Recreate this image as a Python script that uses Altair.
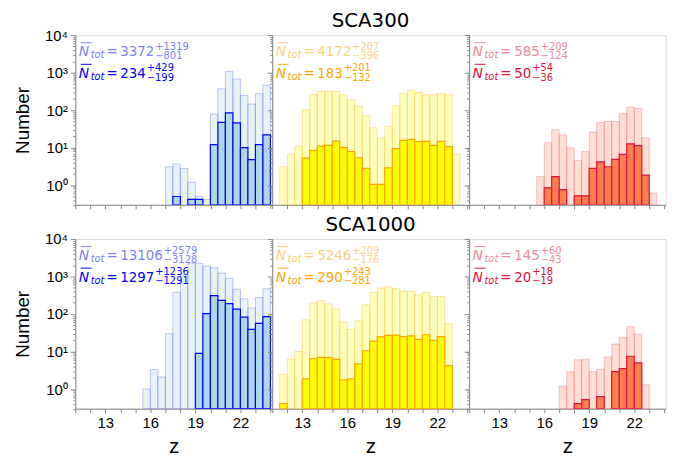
import altair as alt
import pandas as pd

N = None
z_lo = [11.5, 12.0, 12.5, 13.0, 13.5, 14.0, 14.5, 15.0, 15.5, 16.0, 16.5, 17.0, 17.5,
        18.0, 18.5, 19.0, 19.5, 20.0, 20.5, 21.0, 21.5, 22.0, 22.5, 23.0, 23.5]
z_hi = [12.0, 12.5, 13.0, 13.5, 14.0, 14.5, 15.0, 15.5, 16.0, 16.5, 17.0, 17.5, 18.0,
        18.5, 19.0, 19.5, 20.0, 20.5, 21.0, 21.5, 22.0, 22.5, 23.0, 23.5, 24.0]

# SCA300 row
sca300_blue_all = [N, N, N, N, N, N, N, N, N, N, N, 3.1, 3.7, 2.8, 1.2, 0.5, 0.42, 78, 370, 1080, 680, 245, 145, 275, 460]
sca300_blue_sel = [N, N, N, N, N, N, N, N, N, N, N, N, 0.5, N, 0.42, 0.42, N, 12, 47, 85, 46, 10, 4.8, 12, 22]
sca300_yellow_all = [3.1, 6.8, 11, 102, 257, 316, 316, 316, 257, 190, 129, 71, 34, 18, 37, 132, 280, 340, 295, 257, 257, 275, 257, 6.8, N]
sca300_yellow_sel = [N, N, N, 5.3, 8.5, 11, 11.5, 15, 10, 7.9, 5.4, 2.8, 1.05, 1.05, 2.9, 9.4, 15.6, 16.6, 14.5, 14.8, 11.5, 14.8, 10.7, N, N]
sca300_red_all = [N, N, N, N, N, N, N, N, 1.7, 13.5, 30, 22, 10, 4.6, 7.9, 26, 47, 50, 50, 82, 120, 112, 18.4, 0.62, N]
sca300_red_sel = [N, N, N, N, N, N, N, N, N, 0.85, 1.7, 0.76, N, 0.52, 0.52, 2.8, 4.2, 3.1, 4.9, 6.6, 12.7, 11.3, 1.86, N, N]

# SCA1000 row
sca1000_blue_all = [N, N, N, N, N, N, N, N, 1.0, 3.3, 2.1, 30, 380, 1120, 2280, 2240, 1900, 1700, 1230, 900, 460, 255, 145, 275, 470]
sca1000_blue_sel = [N, N, N, N, N, N, N, N, N, N, N, N, N, N, N, 8.9, 103, 310, 230, 190, 135, 83, 39, 56, 85]
sca1000_yellow_all = [2.5, 6.3, 10, 70, 197, 227, 186, 137, 62, 39, 66, 175, 375, 490, 530, 470, 410, 400, 325, 375, 290, 295, 55, N, N]
sca1000_yellow_sel = [0.41, N, N, 1.86, 6.5, 7.0, 6.9, 6.2, 1.75, 1.86, 4.7, 10.5, 19, 24.5, 27, 27.5, 25, 26, 21, 28, 20, 25, 4.2, N, N]
sca1000_red_all = [N, N, N, N, N, N, N, N, N, N, N, 1.2, 2.9, 6.0, 6.3, 2.9, 3.4, 7.2, 15.8, 24, 46, 29, 1.3, N, N]
sca1000_red_sel = [N, N, N, N, N, N, N, N, N, N, N, N, N, 0.41, 0.52, N, 0.63, N, 2.9, 3.5, 7.5, 5.0, N, N, N]

# annotation numbers (panels left to right)
sca300_all_mean = ["3372", "4172", "585"]
sca300_all_up = ["+1319", "+207", "+209"]
sca300_all_lo = ["\u2212801", "\u2212396", "\u2212124"]
sca300_sel_mean = ["234", "183", "50"]
sca300_sel_up = ["+429", "+201", "+54"]
sca300_sel_lo = ["\u2212199", "\u2212132", "\u221236"]
sca1000_all_mean = ["13106", "5246", "145"]
sca1000_all_up = ["+2579", "+209", "+60"]
sca1000_all_lo = ["\u22123128", "\u2212176", "\u221243"]
sca1000_sel_mean = ["1297", "290", "20"]
sca1000_sel_up = ["+1236", "+243", "+18"]
sca1000_sel_lo = ["\u22121291", "\u2212281", "\u221219"]

row_titles = ["SCA300", "SCA1000"]
x_ticks = [11, 12, 13, 14, 15, 16, 17, 18, 19, 20, 21, 22, 23, 24]
y_major = [1, 10, 100, 1000, 10000]
y_minor = [0.3, 0.4, 0.5, 0.6, 0.7, 0.8, 0.9,
           2, 3, 4, 5, 6, 7, 8, 9, 20, 30, 40, 50, 60, 70, 80, 90,
           200, 300, 400, 500, 600, 700, 800, 900,
           2000, 3000, 4000, 5000, 6000, 7000, 8000, 9000]

FONT = "DejaVu Sans"
W, H = 198.7, 171.5
XDOM = [11.0, 24.1]
YDOM = [0.3, 10000]

styles = [
    # fill, stroke, light fill opacity, light stroke opacity, text light, text dark
    ("#add8e6", "#0000ff", 0.3, 0.22, "#7f7ff5", "#0000ff"),
    ("#ffff00", "#ffa500", 0.25, 0.3, "#ffcf80", "#ffa500"),
    ("#ff7f50", "#dc143c", 0.25, 0.22, "#ee8a9d", "#dc143c"),
]

y_label_expr = ("datum.value == 1 ? '10\u2070' : datum.value == 10 ? '10\u00b9' : "
                "datum.value == 100 ? '10\u00b2' : datum.value == 1000 ? '10\u00b3' : "
                "datum.value == 10000 ? '10\u2074' : ''")
x_label_expr = "indexof([13, 16, 19, 22], datum.value) >= 0 ? datum.label : ''"


def frame(vals):
    rows = [(lo, hi, v) for lo, hi, v in zip(z_lo, z_hi, vals) if v is not None]
    return pd.DataFrame(rows, columns=["lo", "hi", "n"])


def text_layer(s, x, y, size, color, italic=False):
    return alt.Chart(pd.DataFrame({"k": [0]})).mark_text(
        align="left", baseline="alphabetic", font=FONT, fontSize=size,
        fontStyle="italic" if italic else "normal", color=color,
    ).encode(x=alt.value(x), y=alt.value(y), text=alt.value(s))


def annotation(mean, up, lo, yb, color):
    dw = 0.636 * 13.5
    layers = [
        text_layer("N", 3.5, yb, 14, color, italic=True),
        alt.Chart(pd.DataFrame({"k": [0]})).mark_rule(color=color, strokeWidth=1).encode(
            x=alt.value(5.5), x2=alt.value(16.5), y=alt.value(yb - 13.8)),
        text_layer("tot", 15.5, yb + 2, 10, color, italic=True),
        text_layer("=", 31.5, yb, 13.5, color),
        text_layer(mean, 45.5, yb, 13.5, color),
    ]
    xs = 45.5 + len(mean) * dw + 1.0
    layers.append(text_layer(up, xs, yb - 6.8, 10, color))
    layers.append(text_layer(lo, xs, yb + 2.6, 10, color))
    return layers


def panel(all_vals, sel_vals, col, bottom, texts, title=None):
    fill, stroke, lfo, lso, tcol1, tcol2 = styles[col]
    major_test = "indexof([1, 10, 100, 1000, 10000], datum.value) >= 0"
    xaxis = alt.Axis(values=x_ticks, labelExpr=x_label_expr, labels=bottom,
                     title="z" if bottom else None, tickSize=4, grid=False,
                     labelFontSize=15, titleFontSize=21, labelPadding=3,
                     titlePadding=5, labelFlush=False, titleFontWeight="normal")
    yaxis = alt.Axis(values=y_major + y_minor, labelExpr=y_label_expr, labels=(col == 0),
                     title="Number" if col == 0 else None,
                     tickSize={"condition": {"test": major_test, "value": 5}, "value": 2.5},
                     grid=False, labelFontSize=15, titleFontSize=19, labelPadding=3,
                     titlePadding=12, labelOverlap=False, labelFlush=False,
                     titleFontWeight="normal")
    xenc = alt.X("lo:Q", scale=alt.Scale(domain=XDOM, nice=False, zero=False), axis=xaxis)
    yenc = alt.Y("n:Q", scale=alt.Scale(type="log", domain=YDOM, nice=False), axis=yaxis)
    light = alt.Chart(frame(all_vals)).mark_bar(
        clip=True, fill=fill, fillOpacity=lfo, stroke=stroke, strokeOpacity=lso, strokeWidth=1
    ).encode(x=xenc, x2="hi:Q", y=yenc, y2=alt.datum(0.3))
    dark = alt.Chart(frame(sel_vals)).mark_bar(
        clip=True, fill=fill, fillOpacity=1, stroke=stroke, strokeWidth=1.2
    ).encode(x=xenc, x2="hi:Q", y=yenc, y2=alt.datum(0.3))
    m1, u1, l1, m2, u2, l2 = texts
    layers = [light, dark]
    layers += annotation(m1, u1, l1, 21.5, tcol1)
    layers += annotation(m2, u2, l2, 43.3, tcol2)
    props = dict(width=W, height=H)
    if title:
        props["title"] = alt.TitleParams(title, fontSize=20, font=FONT, fontWeight="normal",
                                         anchor="middle", offset=3.5, color="black")
    return alt.layer(*layers).properties(**props)


row1_data = [(sca300_blue_all, sca300_blue_sel), (sca300_yellow_all, sca300_yellow_sel),
             (sca300_red_all, sca300_red_sel)]
row2_data = [(sca1000_blue_all, sca1000_blue_sel), (sca1000_yellow_all, sca1000_yellow_sel),
             (sca1000_red_all, sca1000_red_sel)]

panels = []
for c, (a, s) in enumerate(row1_data):
    t = (sca300_all_mean[c], sca300_all_up[c], sca300_all_lo[c],
         sca300_sel_mean[c], sca300_sel_up[c], sca300_sel_lo[c])
    panels.append(panel(a, s, c, False, t, row_titles[0] if c == 1 else None))
for c, (a, s) in enumerate(row2_data):
    t = (sca1000_all_mean[c], sca1000_all_up[c], sca1000_all_lo[c],
         sca1000_sel_mean[c], sca1000_sel_up[c], sca1000_sel_lo[c])
    panels.append(panel(a, s, c, True, t, row_titles[1] if c == 1 else None))

chart = alt.concat(
    *panels, columns=3, spacing={"row": 34, "column": 0}, bounds="flush"
).properties(
    padding={"left": 5, "top": 0, "right": 5, "bottom": 5}
).configure_view(
    stroke="black", strokeWidth=1
).configure_axis(
    domainColor="black", tickColor="black", labelColor="black", titleColor="black",
    labelFont=FONT, titleFont=FONT, domainWidth=1, tickWidth=1
).configure(background="white")

chart.save("out.html", embed_options={"renderer": "svg", "actions": False})
